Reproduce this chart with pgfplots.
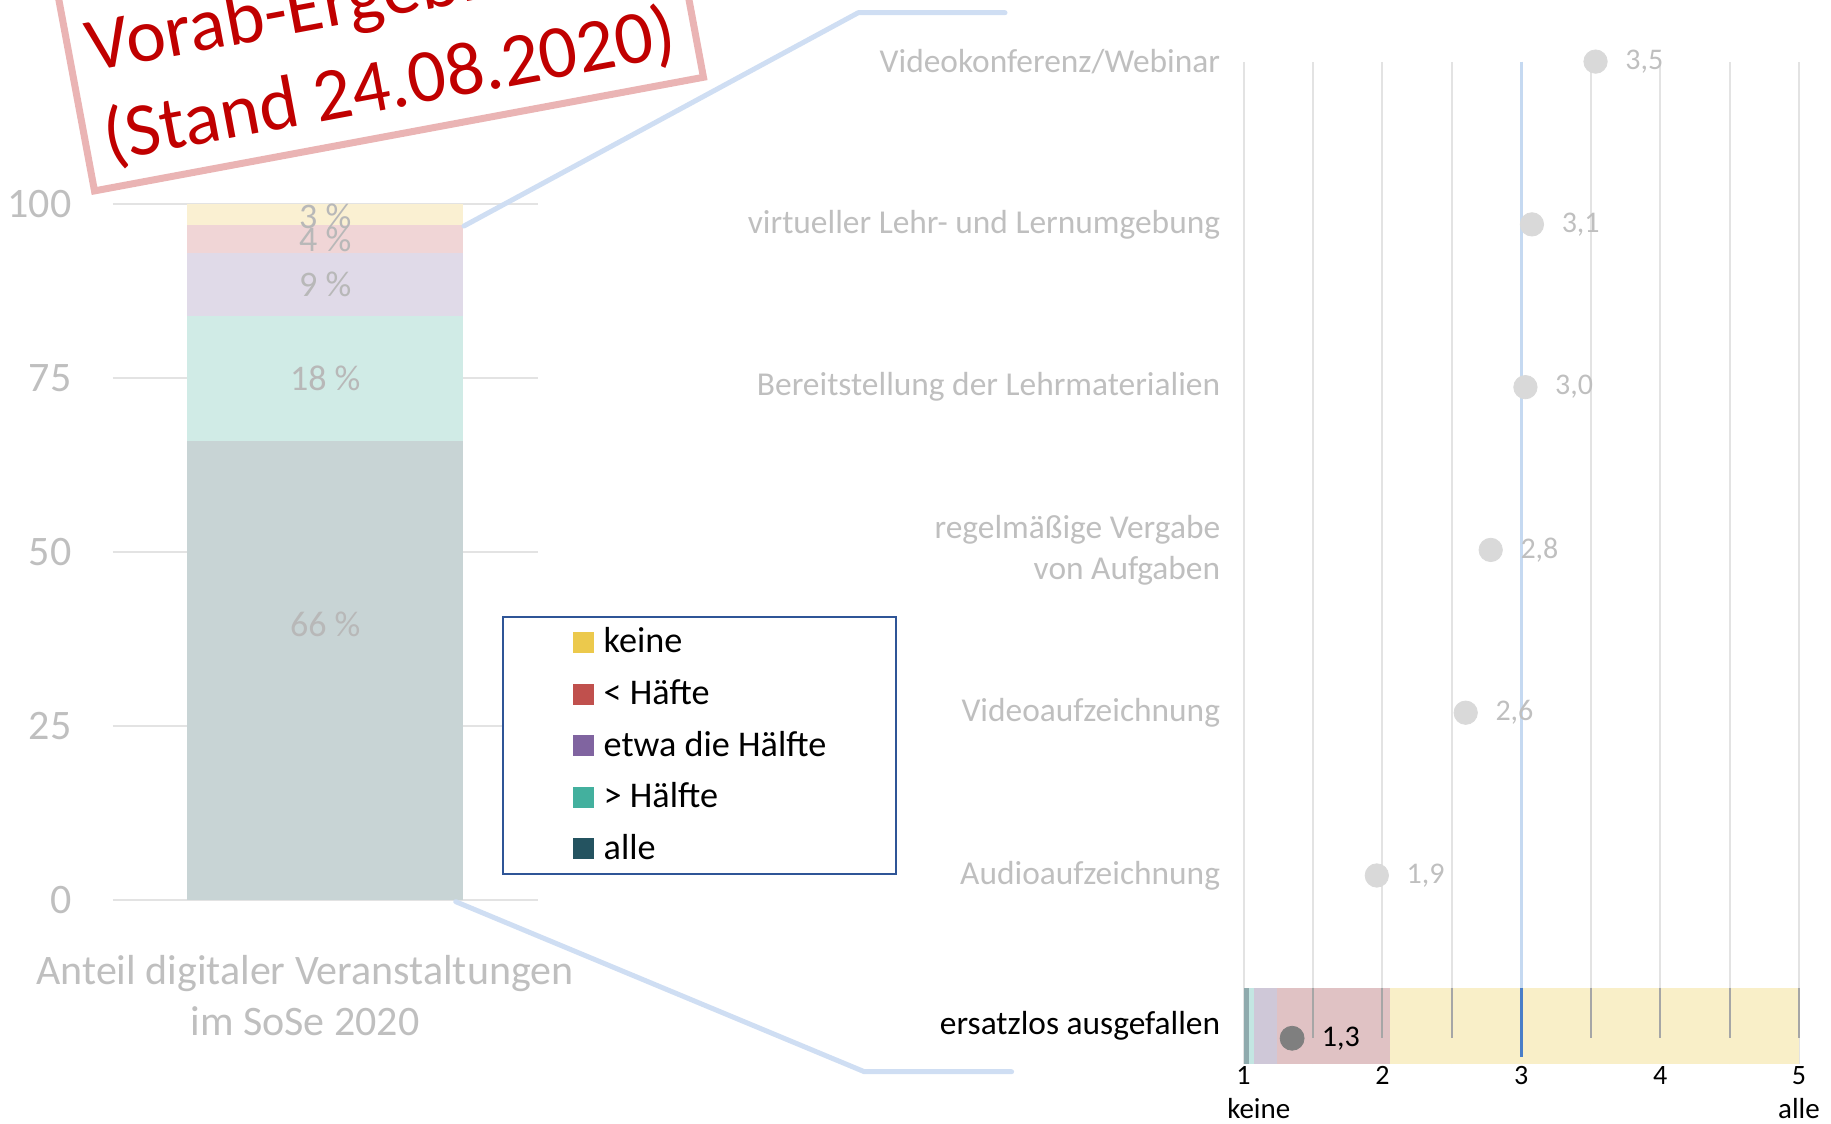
\documentclass[border=0pt]{standalone}
\usepackage{pgfplots}
\pgfplotsset{compat=1.18}
\usepackage{fontspec}
\setmainfont{Carlito}
\definecolor{gridc}{HTML}{E3E3E3}
\definecolor{tickc}{HTML}{BFBFBF}
\definecolor{barlab}{HTML}{B8B8B8}
\definecolor{connc}{HTML}{CFDEF3}
\definecolor{stampB}{HTML}{EAB4B4}
\definecolor{stampT}{HTML}{C00000}
\definecolor{legB}{HTML}{2F5597}
\definecolor{keineF}{HTML}{FAF0D2}
\definecolor{wenigF}{HTML}{F0D5D6}
\definecolor{halbF}{HTML}{E0DAE8}
\definecolor{mehrF}{HTML}{D0EBE6}
\definecolor{alleF}{HTML}{C8D4D5}
\definecolor{keineL}{HTML}{ECC94C}
\definecolor{wenigL}{HTML}{C0504D}
\definecolor{halbL}{HTML}{8064A0}
\definecolor{mehrL}{HTML}{43B09E}
\definecolor{alleL}{HTML}{245360}
\definecolor{keineB}{HTML}{F9EFC8}
\definecolor{wenigB}{HTML}{E0C2C4}
\definecolor{halbB}{HTML}{CFC8D8}
\definecolor{mehrB}{HTML}{C3E6E2}
\definecolor{alleB}{HTML}{8FAAAD}
\definecolor{dotc}{HTML}{D9D9D9}
\definecolor{dotd}{HTML}{7F7F7F}
\definecolor{blueL}{HTML}{C5D9F1}
\definecolor{blueD}{HTML}{4A7EC8}
\definecolor{bandline}{HTML}{A6A6A6}
\newcommand\fs[2]{\fontsize{#1}{#2}\selectfont}
\pgfplotsset{sqleg/.style={legend image code/.code={%
  \path[draw=none, fill=none] (0pt,-8.325pt) rectangle (50.5pt,8.325pt);
  \fill[##1] (35pt,-5.325pt) rectangle (45.5pt,5.175pt);}}}
\begin{document}
\begin{tikzpicture}
\path[use as bounding box] (0,0) rectangle (915.5pt,562pt);

% ---------- left: stacked bar ----------
\begin{axis}[
  at={(56.35pt,112pt)}, anchor=south west,
  scale only axis, width=212.5pt, height=347.85pt,
  xmin=-1, xmax=1, ymin=0, ymax=100,
  ybar stacked, bar width=137.8pt,
  axis line style={draw=none}, tick style={draw=none},
  xtick=\empty, ytick={0,25,50,75,100},
  ymajorgrids, major grid style={draw=gridc, line width=1pt},
  /pgf/number format/assume math mode=true,
  yticklabel style={font=\fs{21}{25}, text=tickc, inner sep=0pt, anchor=east, xshift=-20.5pt},
  legend style={at={(0.9153,0.4087)}, anchor=north west, draw=legB, line width=1pt,
     font=\fs{18.1}{21}, text=black, inner xsep=0pt, inner ysep=4.5pt, row sep=9.15pt,
     nodes={inner sep=0pt, text height=13.65pt, text depth=3pt}},
  legend cell align=left,
  clip=false,
]
\addlegendimage{sqleg, fill=keineL, draw=none}
\addlegendentry{\makebox[146pt][l]{keine}}
\addlegendimage{sqleg, fill=wenigL, draw=none}
\addlegendentry{\makebox[146pt][l]{< Häfte}}
\addlegendimage{sqleg, fill=halbL, draw=none}
\addlegendentry{\makebox[146pt][l]{etwa die Hälfte}}
\addlegendimage{sqleg, fill=mehrL, draw=none}
\addlegendentry{\makebox[146pt][l]{> Hälfte}}
\addlegendimage{sqleg, fill=alleL, draw=none}
\addlegendentry{\makebox[146pt][l]{alle}}
\addplot[fill=alleF, draw=none, forget plot] coordinates {(0,66)};
\addplot[fill=mehrF, draw=none, forget plot] coordinates {(0,18)};
\addplot[fill=halbF, draw=none, forget plot] coordinates {(0,9)};
\addplot[fill=wenigF, draw=none, forget plot] coordinates {(0,4)};
\addplot[fill=keineF, draw=none, forget plot] coordinates {(0,3)};
\end{axis}

% ---------- left: value labels (overlay) ----------
\begin{axis}[
  at={(56.35pt,112pt)}, anchor=south west,
  scale only axis, width=212.5pt, height=347.85pt,
  xmin=-1, xmax=1, ymin=0, ymax=100,
  hide axis, clip=false,
]
\node[font=\fs{18}{21}, text=barlab] at (axis cs:0,39.6) {66 \%};
\node[font=\fs{18}{21}, text=barlab] at (axis cs:0,75) {18 \%};
\node[font=\fs{18}{21}, text=barlab] at (axis cs:0,88.5) {9 \%};
\node[font=\fs{18}{21}, text=barlab] at (axis cs:0,95) {4 \%};
\node[font=\fs{18}{21}, text=barlab] at (axis cs:0,98.3) {3 \%};
\end{axis}

% ---------- right: band + grid + labels ----------
\begin{axis}[
  at={(621.75pt,29.85pt)}, anchor=south west,
  scale only axis, width=277.75pt, height=501.35pt,
  xmin=1, xmax=5, ymin=-0.16, ymax=6,
  xbar stacked, bar width=38.2pt,
  axis line style={draw=none}, tick style={draw=none},
  xtick={1,2,3,4,5}, minor xtick={1.5,2.5,3.5,4.5},
  xmajorgrids, xminorgrids,
  major grid style={draw=gridc, line width=1pt},
  minor grid style={draw=gridc, line width=1pt},
  ytick={0.075,1,2,3,4,5,6},
  yticklabels={{\textcolor{black}{ersatzlos ausgefallen}}, Audioaufzeichnung, Videoaufzeichnung, {regelmäßige Vergabe\\von Aufgaben}, Bereitstellung der Lehrmaterialien, virtueller Lehr- und Lernumgebung, Videokonferenz/Webinar},
  yticklabel style={font=\fs{16.7}{20.5}, text=tickc, align=right, inner sep=0pt, anchor=east, xshift=-11.5pt},
  /pgf/number format/assume math mode=true,
  xticklabel style={font=\fs{14}{17}, text=black, inner sep=0pt, anchor=north, yshift=-1pt},
  clip=false,
]
\addplot[draw=none, fill=none] coordinates {(1,0.075)};
\addplot[fill=alleB, draw=none] coordinates {(0.039,0.075)};
\addplot[fill=mehrB, draw=none] coordinates {(0.038,0.075)};
\addplot[fill=halbB, draw=none] coordinates {(0.167,0.075)};
\addplot[fill=wenigB, draw=none] coordinates {(0.809,0.075)};
\addplot[fill=keineB, draw=none] coordinates {(2.947,0.075)};
\node[font=\fs{14.5}{17}, anchor=base] at (axis cs:1.11,-0.4915) {keine};
\node[font=\fs{14.5}{17}, anchor=base] at (axis cs:5,-0.4915) {alle};
\end{axis}

% ---------- right: dots and reference lines ----------
\begin{axis}[
  at={(621.75pt,29.85pt)}, anchor=south west,
  scale only axis, width=277.75pt, height=501.35pt,
  xmin=1, xmax=5, ymin=-0.16, ymax=6,
  hide axis, clip=false,
]
\pgfplotsinvokeforeach{1.5,2,2.5,3.5,4,4.5,5}{%
  \draw[bandline, line width=1pt] (axis cs:#1,0.309) -- (axis cs:#1,0);}
\draw[blueL, line width=1.25pt] (axis cs:3,6) -- (axis cs:3,0.309);
\draw[blueD, line width=1.25pt] (axis cs:3,0.309) -- (axis cs:3,-0.113);
\addplot[only marks, mark=*, mark size=5.85pt, color=dotc,
  point meta=explicit symbolic, nodes near coords, nodes near coords align=horizontal,
  every node near coord/.append style={anchor=west, inner sep=0pt, xshift=14.7pt, text=tickc, font=\fs{15}{18}}]
  table[meta=lab] {
x y lab
3.535 6 3,5
3.077 5 3,1
3.03 4 3,0
2.78 3 2,8
2.60 2 2,6
1.96 1 1,9
};
\addplot[only marks, mark=*, mark size=6pt, color=dotd,
  point meta=explicit symbolic, nodes near coords, nodes near coords align=horizontal,
  every node near coord/.append style={anchor=west, inner sep=0pt, xshift=14.7pt, text=black, font=\fs{15}{18}}]
  table[meta=lab] {
x y lab
1.35 0 1,3
};
\end{axis}

% ---------- connectors and caption ----------
\begin{scope}[x=0.5pt, y=-0.5pt, shift={(0pt,562pt)}]
\draw[connc, line width=2.5pt, line cap=round, line join=round] (464,226) -- (858.3,12.7) -- (1005,12.7);
\draw[connc, line width=2.5pt, line cap=round, line join=round] (455.8,901.7) -- (864.3,1071.7) -- (1011.6,1071.7);
\node[align=center, font=\fs{21}{25.5}, text=tickc] at (305,995.5) {Anteil digitaler Veranstaltungen\\im SoSe 2020};
\end{scope}

% ---------- stamp ----------
\begin{scope}
\clip (0,0) rectangle (915.5pt,562pt);
\begin{scope}[shift={(45.85pt,464.5pt)}, rotate=10.57]
\draw[stampB, line width=3.5pt, fill=white] (1.75pt,1.75pt) rectangle (311.5pt,175pt);
\node[transform shape, anchor=base west, text=stampT, font=\fs{37.7}{45}, inner sep=0pt] at (11pt,15pt) {(Stand 24.08.2020)};
\node[transform shape, anchor=base west, text=stampT, font=\fs{37.7}{45}, inner sep=0pt] at (11pt,60.5pt) {Vorab-Ergebnisse};
\end{scope}
\end{scope}
\end{tikzpicture}
\end{document}
